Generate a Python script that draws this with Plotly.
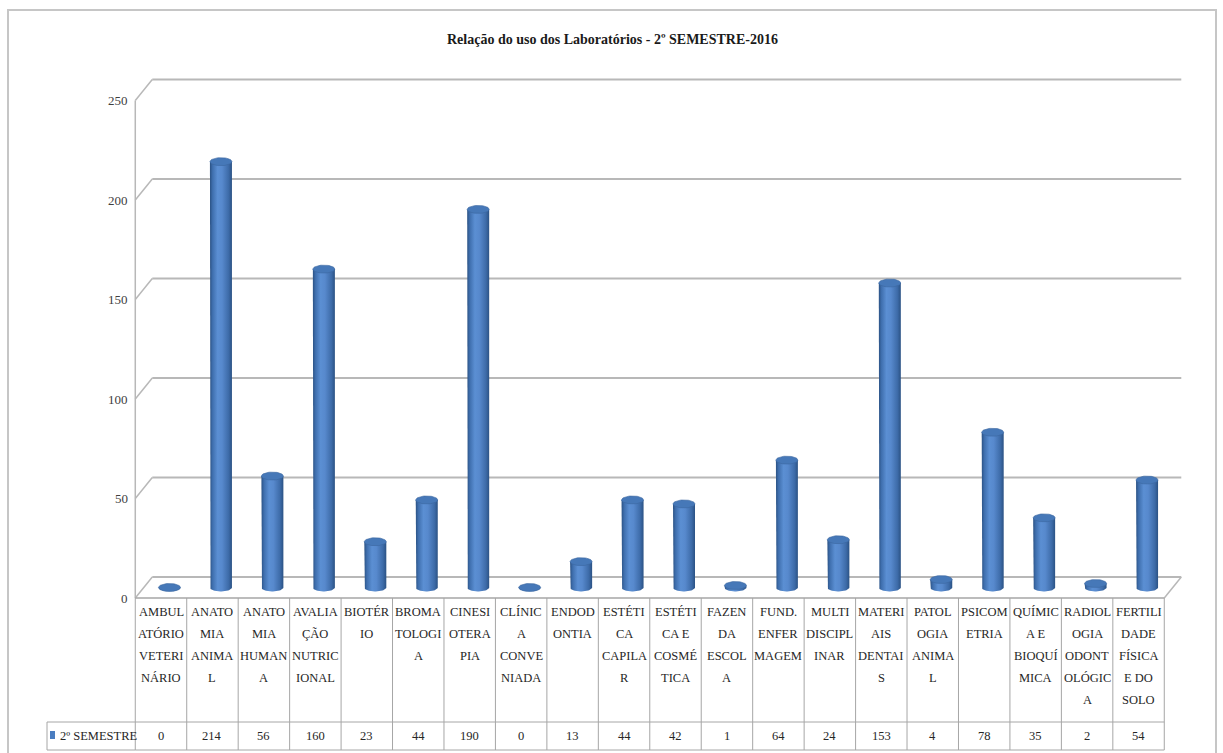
import numpy as np
import plotly.graph_objects as go

# ---- data -------------------------------------------------------------
title_text = "Relação do uso dos Laboratórios - 2º SEMESTRE-2016"
series_name = "2º SEMESTRE"

# laboratory names as wrapped in the data-table header cells
category_lines = [
    ["AMBUL", "ATÓRIO", "VETERI", "NÁRIO"],
    ["ANATO", "MIA", "ANIMA", "L"],
    ["ANATO", "MIA", "HUMAN", "A"],
    ["AVALIA", "ÇÃO", "NUTRIC", "IONAL"],
    ["BIOTÉR", "IO"],
    ["BROMA", "TOLOGI", "A"],
    ["CINESI", "OTERA", "PIA"],
    ["CLÍNIC", "A", "CONVE", "NIADA"],
    ["ENDOD", "ONTIA"],
    ["ESTÉTI", "CA", "CAPILA", "R"],
    ["ESTÉTI", "CA E", "COSMÉ", "TICA"],
    ["FAZEN", "DA", "ESCOL", "A"],
    ["FUND.", "ENFER", "MAGEM"],
    ["MULTI", "DISCIPL", "INAR"],
    ["MATERI", "AIS", "DENTAI", "S"],
    ["PATOL", "OGIA", "ANIMA", "L"],
    ["PSICOM", "ETRIA"],
    ["QUÍMIC", "A E", "BIOQUÍ", "MICA"],
    ["RADIOL", "OGIA", "ODONT", "OLÓGIC", "A"],
    ["FERTILI", "DADE", "FÍSICA", "E DO", "SOLO"],
]
values = [0, 214, 56, 160, 23, 44, 190, 0, 13, 44, 42, 1, 64, 24, 153, 4, 78, 35, 2, 54]
y_ticks = [0, 50, 100, 150, 200, 250]

# ---- geometry / styling ----------------------------------------------
W, H = 1223, 753
COL_PX = 51.45          # pixels per category
X0_PX = 169.5           # pixel centre of the first cylinder
Y_PX_PER_UNIT = 1.99    # pixels per value unit
ZERO_PX = 587.5         # pixel row of value 0 on the cylinder plane
DEPTH_X_PX, DEPTH_Y_PX = 8.5, 10.5   # half depth of the 3-D box

x_lo = -X0_PX / COL_PX
x_hi = x_lo + W / COL_PX
y_lo = -(H - ZERO_PX) / Y_PX_PER_UNIT
y_hi = y_lo + H / Y_PX_PER_UNIT
dx = DEPTH_X_PX / COL_PX
dy = DEPTH_Y_PX / Y_PX_PER_UNIT
n = len(values)

half_w = 11 / COL_PX        # cylinder radius (x units)
cap_ry = 4 / Y_PX_PER_UNIT  # ellipse half height (y units)

FONT = "Liberation Serif"
GRID = "#b8b8b8"
TABLE = "#a6a6a6"
TXT = "#262626"


def py(p):
    """pixel row -> paper fraction"""
    return 1 - p / H


def px(p):
    """pixel column -> paper fraction"""
    return p / W


fig = go.Figure()

# ---- cylinders ---------------------------------------------------------
t_low = np.linspace(np.pi, 2 * np.pi, 30)
t_full = np.linspace(0, 2 * np.pi, 60)
body_scale = [
    [0.0, "#2b5284"], [0.12, "#3f6fae"], [0.35, "#5b8fd3"],
    [0.55, "#5789cd"], [0.85, "#3d6ba8"], [1.0, "#2b5284"],
]
for i, v in enumerate(values):
    bx = np.concatenate([[i - half_w, i - half_w], i + half_w * np.cos(t_low), [i + half_w]])
    by = np.concatenate([[v, 0], cap_ry * np.sin(t_low), [v]])
    fig.add_trace(go.Scatter(
        x=bx, y=by, mode="lines", line=dict(width=0), fill="toself",
        fillgradient=dict(type="horizontal", colorscale=body_scale),
        hoverinfo="skip", showlegend=False))
    fig.add_trace(go.Scatter(
        x=i + half_w * np.cos(t_full), y=v + cap_ry * np.sin(t_full),
        mode="lines", line=dict(width=0.6, color="#3a679f"), fill="toself",
        fillcolor="#4678b8", hoverinfo="skip", showlegend=False))

shapes = []
annotations = []

left_front = -0.5 - dx
left_back = -0.5 + dx
right_front = n - 0.5 - dx
right_back = n - 0.5 + dx

# back wall gridlines and side-wall diagonals
for t in y_ticks:
    shapes.append(dict(type="line", xref="x", yref="y", x0=left_back, x1=right_back,
                       y0=t + dy, y1=t + dy, line=dict(color=GRID, width=2), layer="below"))
    shapes.append(dict(type="line", xref="x", yref="y", x0=left_front, x1=left_back,
                       y0=t - dy, y1=t + dy, line=dict(color=GRID, width=1.5), layer="below"))
    annotations.append(dict(x=left_front, y=t - dy, xref="x", yref="y", text=str(t),
                            showarrow=False, xanchor="right", yanchor="middle", xshift=-5,
                            font=dict(family=FONT, size=13, color="#404040")))

# front value axis
shapes.append(dict(type="line", xref="x", yref="y", x0=left_front, x1=left_front,
                   y0=-dy, y1=y_ticks[-1] - dy, line=dict(color=GRID, width=1.5), layer="below"))
# floor right edge
shapes.append(dict(type="line", xref="x", yref="y", x0=right_front, x1=right_back,
                   y0=-dy, y1=dy, line=dict(color=GRID, width=1.5), layer="below"))

# ---- data table ----------------------------------------------------------
tbl_top, tbl_mid, tbl_bot = 598, 722, 750
key_left = 47
for k in range(n + 1):
    xb = left_front + k
    shapes.append(dict(type="line", xref="x", yref="paper", x0=xb, x1=xb,
                       y0=py(tbl_top), y1=py(tbl_bot), line=dict(color=TABLE, width=1)))
shapes.append(dict(type="line", xref="x", yref="paper", x0=left_front, x1=right_front,
                   y0=py(tbl_top), y1=py(tbl_top), line=dict(color=TABLE, width=1.5)))
shapes.append(dict(type="line", xref="paper", yref="paper", x0=px(key_left),
                   x1=px(key_left), y0=py(tbl_mid), y1=py(tbl_bot),
                   line=dict(color=TABLE, width=1)))
for yy in (tbl_mid, tbl_bot):
    shapes.append(dict(type="line", xref="x", yref="paper", x0=left_front, x1=right_front,
                       y0=py(yy), y1=py(yy), line=dict(color=TABLE, width=1)))
    shapes.append(dict(type="line", xref="paper", yref="paper", x0=px(key_left),
                       x1=px(X0_PX - COL_PX / 2 - DEPTH_X_PX), y0=py(yy), y1=py(yy),
                       line=dict(color=TABLE, width=1)))

# legend key in the table
shapes.append(dict(type="rect", xref="paper", yref="paper", x0=px(50), x1=px(55),
                   y0=py(739), y1=py(731), fillcolor="#4a7dc0", line=dict(width=0)))
annotations.append(dict(x=px(58), y=py(735.5), xref="paper", yref="paper", text=series_name,
                        showarrow=False, xanchor="left", yanchor="middle",
                        font=dict(family=FONT, size=12.5, color=TXT)))

line_start, line_step = 612, 22
for i, (lines, v) in enumerate(zip(category_lines, values)):
    for j, s in enumerate(lines):
        annotations.append(dict(x=i - dx, y=py(line_start + j * line_step), xref="x",
                                yref="paper", text=s, showarrow=False,
                                xanchor="center", yanchor="middle",
                                font=dict(family=FONT, size=12.5, color=TXT)))
    annotations.append(dict(x=i - dx, y=py(735.5), xref="x", yref="paper", text=str(v),
                            showarrow=False, xanchor="center", yanchor="middle",
                            font=dict(family=FONT, size=12.5, color=TXT)))

# title
annotations.append(dict(x=px(612), y=py(40), xref="paper", yref="paper",
                        text="<b>" + title_text + "</b>", showarrow=False,
                        xanchor="center", yanchor="middle",
                        font=dict(family=FONT, size=14, color="#1a1a1a")))

# chart border
shapes.append(dict(type="rect", xref="paper", yref="paper", x0=px(8), x1=px(1216),
                   y0=py(10), y1=py(770), line=dict(color="#c6c6c6", width=2)))

fig.update_layout(
    width=W, height=H,
    margin=dict(l=0, r=0, t=0, b=0),
    paper_bgcolor="white", plot_bgcolor="white",
    xaxis=dict(range=[x_lo, x_hi], visible=False, fixedrange=True),
    yaxis=dict(range=[y_lo, y_hi], visible=False, fixedrange=True),
    shapes=shapes, annotations=annotations,
    showlegend=False,
)

fig.write_html("out.html", config={"displayModeBar": False})
